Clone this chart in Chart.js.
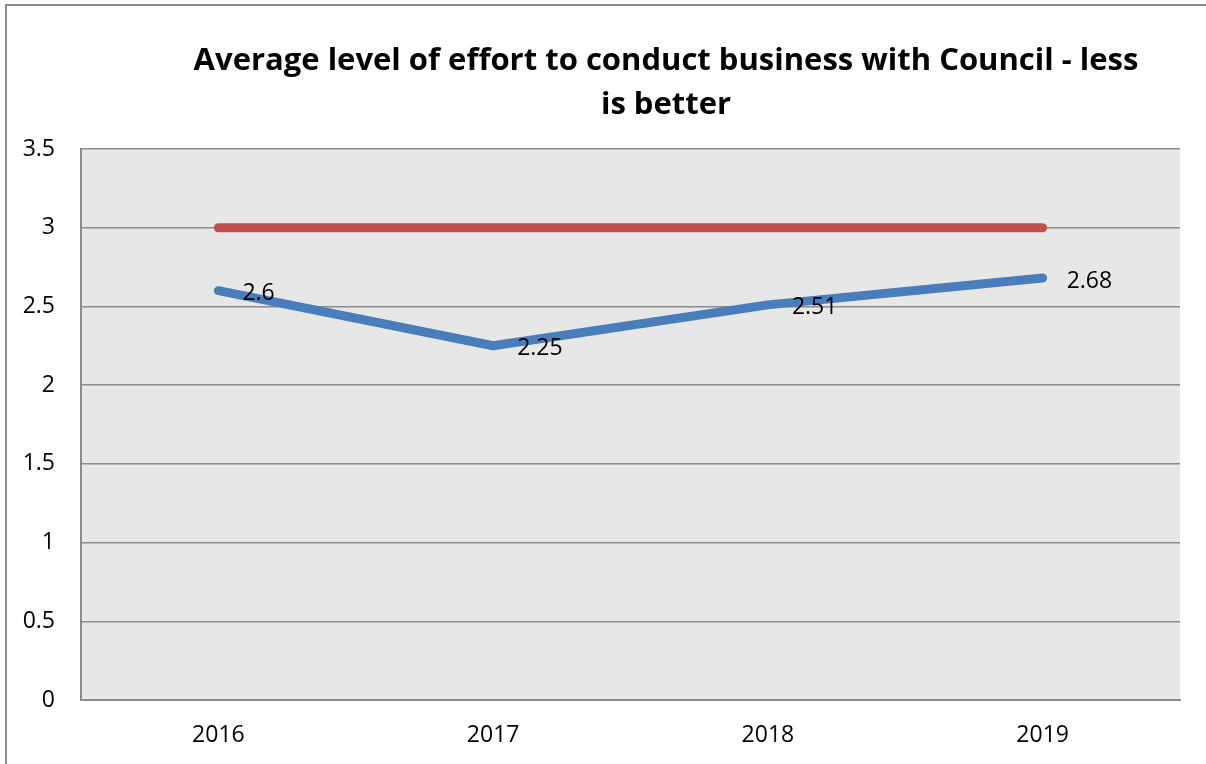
<!DOCTYPE html>
<html>
<head>
<meta charset="utf-8">
<script src="https://cdn.jsdelivr.net/npm/chart.js@4/dist/chart.umd.min.js"></script>
<style>
    html, body { margin: 0; padding: 0; background: #ffffff; }
    #wrap { width: 1206px; height: 764px; position: relative; }
</style>
</head>
<body>
<div id="wrap"><canvas id="effortChart"></canvas></div>
<script>
    const years = ["2016", "2017", "2018", "2019"];
    const effortScores = [2.6, 2.25, 2.51, 2.68];
    const targetLevel = [3, 3, 3, 3];
    const titleLines = ["Average level of effort to conduct business with Council - less", "is better"];

    const FONT = "'Open Sans', 'Noto Sans', sans-serif";

    // grey plot background + outer frame
    const backdrop = {
        id: "backdrop",
        beforeDraw(chart) {
            const { ctx, chartArea: a } = chart;
            ctx.save();
            ctx.fillStyle = "#E7E7E7";
            ctx.fillRect(a.left, a.top, a.right - a.left, a.bottom - a.top);
            ctx.strokeStyle = "#8c8c8c";
            ctx.lineWidth = 2;
            ctx.beginPath();
            ctx.moveTo(6, 764);
            ctx.lineTo(6, 5);
            ctx.lineTo(1206, 5);
            ctx.stroke();
            ctx.restore();
        },
    };

    // two-line chart title
    const chartTitle = {
        id: "chartTitle",
        afterDraw(chart) {
            const ctx = chart.ctx;
            ctx.save();
            ctx.fillStyle = "#000";
            ctx.font = "bold 31px " + FONT;
            ctx.textAlign = "center";
            ctx.textBaseline = "middle";
            titleLines.forEach((line, i) => {
                ctx.fillText(line, 666, 61 + i * 44);
            });
            ctx.restore();
        },
    };

    // value labels to the right of each point
    const valueLabels = {
        id: "valueLabels",
        afterDatasetsDraw(chart) {
            const ctx = chart.ctx;
            const meta = chart.getDatasetMeta(0);
            ctx.save();
            ctx.fillStyle = "#000";
            ctx.font = "23px " + FONT;
            ctx.textAlign = "left";
            ctx.textBaseline = "middle";
            meta.data.forEach((pt, i) => {
                ctx.fillText(String(effortScores[i]), pt.x + 24, pt.y + 3);
            });
            ctx.restore();
        },
    };

    new Chart(document.getElementById("effortChart"), {
        type: "line",
        data: {
            labels: years,
            datasets: [
                {
                    label: "Effort",
                    data: effortScores,
                    borderColor: "#4A7EBB",
                    borderWidth: 9,
                    borderCapStyle: "round",
                    borderJoinStyle: "round",
                    pointRadius: 0,
                    tension: 0,
                },
                {
                    label: "Target",
                    data: targetLevel,
                    borderColor: "#C0504D",
                    borderWidth: 9,
                    borderCapStyle: "round",
                    pointRadius: 0,
                    tension: 0,
                },
            ],
        },
        options: {
            responsive: true,
            maintainAspectRatio: false,
            animation: false,
            layout: {
                padding: { top: 149, right: 26, left: 0, bottom: 0 },
            },
            scales: {
                x: {
                    offset: true,
                    grid: { display: false, drawTicks: false },
                    border: { display: true, color: "#8c8c8c", width: 2 },
                    ticks: {
                        color: "#000",
                        font: { family: FONT, size: 23 },
                        padding: 22,
                    },
                    afterFit(scale) {
                        scale.height = 64;
                    },
                },
                y: {
                    min: 0,
                    max: 3.5,
                    grid: {
                        color: "#8c8c8c",
                        lineWidth: 1.5,
                        drawTicks: false,
                    },
                    border: { display: true, color: "#8c8c8c", width: 2 },
                    ticks: {
                        stepSize: 0.5,
                        color: "#000",
                        font: { family: FONT, size: 23 },
                        padding: 26,
                        callback: (v) => String(v),
                    },
                    afterFit(scale) {
                        scale.width = 81;
                    },
                },
            },
            plugins: {
                legend: { display: false },
                title: { display: false },
                tooltip: { enabled: false },
            },
        },
        plugins: [backdrop, chartTitle, valueLabels],
    });
</script>
</body>
</html>
